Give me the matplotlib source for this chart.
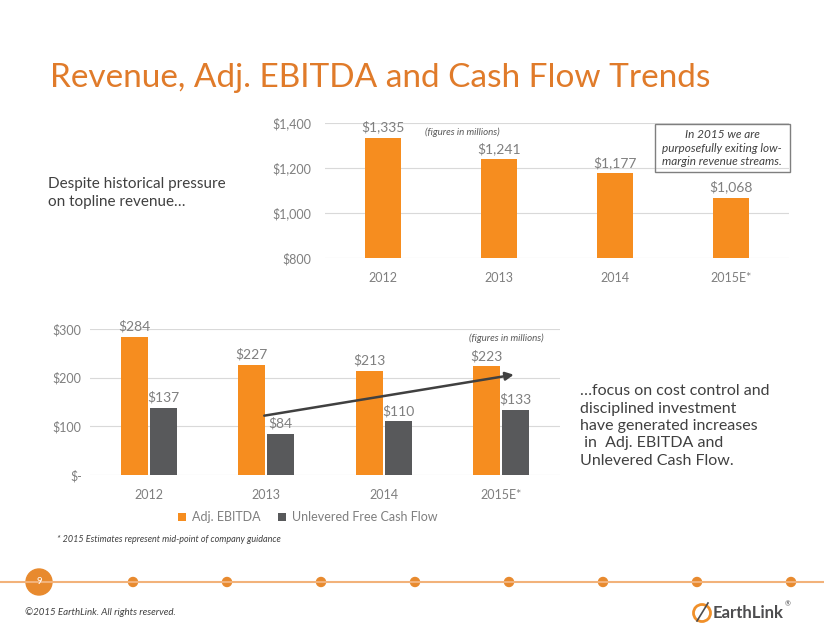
import matplotlib.pyplot as plt
from matplotlib.patches import Circle, Rectangle

plt.rcParams['font.family'] = ['Lato', 'DejaVu Sans']

years = ['2012', '2013', '2014', '2015E*']
revenue = [1335, 1241, 1177, 1068]
ebitda = [284, 227, 213, 223]
cash_flow = [137, 84, 110, 133]
revenue_ticks = [800, 1000, 1200, 1400]
revenue_tick_labels = ['$800', '$1,000', '$1,200', '$1,400']
cash_ticks = [0, 100, 200, 300]
cash_tick_labels = ['$-', '$100', '$200', '$300']

ORANGE = '#F68D1F'
GRAY = '#58595B'
TITLE = '#E07B2A'
TICK = '#7F7F7F'
W, H = 824, 637

fig = plt.figure(figsize=(W / 100, H / 100), dpi=100)


def px_axes(left, top, right, bottom):
    return fig.add_axes([left / W, 1 - bottom / H, (right - left) / W, (bottom - top) / H])


def px_text(x, y, s, **kw):
    fig.text(x / W, 1 - y / H, s, **kw)


def style(ax):
    for s in ax.spines.values():
        s.set_visible(False)
    ax.tick_params(length=0, colors=TICK, labelsize=9)
    ax.grid(axis='y', color='#D9D9D9', lw=0.8)
    ax.set_axisbelow(True)


# title
px_text(50, 78, 'Revenue, Adj. EBITDA and Cash Flow Trends', color=TITLE,
        fontsize=24, va='center', ha='left')

# top chart: revenue
ax1 = px_axes(325, 123, 789, 258)
x = range(len(years))
ax1.bar(x, revenue, width=0.31, color=ORANGE)
for i, v in enumerate(revenue):
    ax1.text(i, v + 18, f'${v:,}', ha='center', va='bottom', color=TICK, fontsize=10)
ax1.set_ylim(800, 1400)
ax1.set_xlim(-0.5, 3.5)
ax1.set_yticks(revenue_ticks, revenue_tick_labels)
ax1.set_xticks(list(x), years)
style(ax1)
ax1.tick_params(axis='x', pad=10)
ax1.tick_params(axis='y', pad=10)
px_text(462, 132, '(figures in millions)', ha='center', va='center',
        fontsize=7, style='italic', color='#595959')
fig.patches.append(Rectangle((655 / W, 1 - 172 / H), 135 / W, 48 / H,
                             transform=fig.transFigure, fill=False,
                             ec='#7F7F7F', lw=1))
px_text(722, 148, 'In 2015 we are\npurposefully exiting low-\nmargin revenue streams.',
        ha='center', va='center', fontsize=8.5, style='italic', color='#404040',
        linespacing=1.25)

px_text(48, 193, 'Despite historical pressure\non topline revenue…', ha='left',
        va='center', fontsize=11, color='#404040', linespacing=1.35)

# bottom chart: EBITDA and cash flow
ax2 = px_axes(90, 329, 560, 475)
off = 0.123
ax2.bar([i - off for i in x], ebitda, width=0.23, color=ORANGE, label='Adj. EBITDA')
ax2.bar([i + off for i in x], cash_flow, width=0.23, color=GRAY,
        label='Unlevered Free Cash Flow')
for i in x:
    ax2.text(i - off, ebitda[i] + 9, f'${ebitda[i]}', ha='center', va='bottom',
             color=TICK, fontsize=10)
    ax2.text(i + off, cash_flow[i] + 9, f'${cash_flow[i]}', ha='center', va='bottom',
             color=TICK, fontsize=10)
ax2.set_ylim(0, 300)
ax2.set_xlim(-0.5, 3.5)
ax2.set_yticks(cash_ticks, cash_tick_labels)
ax2.set_xticks(list(x), years)
style(ax2)
ax2.tick_params(axis='x', pad=10)
ax2.tick_params(axis='y', pad=6)
ax2.annotate('', xy=(3.13, 207), xytext=(0.96, 121),
             arrowprops=dict(arrowstyle='-|>', color='#404040', lw=1.8,
                             mutation_scale=12))
ax2.legend(loc='upper center', bbox_to_anchor=(0.464, -0.17), ncol=2, frameon=False,
           fontsize=9, labelcolor=TICK, handlelength=0.6, handleheight=0.6,
           columnspacing=1.4, handletextpad=0.5)
px_text(506, 338, '(figures in millions)', ha='center', va='center',
        fontsize=7, style='italic', color='#595959')

px_text(580, 426, '…focus on cost control and\ndisciplined investment\nhave generated increases\n in  Adj. EBITDA and\nUnlevered Cash Flow.',
        ha='left', va='center', fontsize=11.5, color='#404040', linespacing=1.3)

px_text(57, 540, '* 2015 Estimates represent mid-point of company guidance', ha='left',
        va='center', fontsize=6.5, style='italic', color='#404040')

# footer
fig.add_artist(plt.Line2D([0, 1], [1 - 582 / H] * 2, color='#F2B27A', lw=1.5))
for k in range(8):
    fig.patches.append(Circle((133 + 94 * k, H - 582), 4.5, color='#E88A2E',
                              transform=None))
fig.patches.append(Circle((39, H - 582), 13, color='#E88A2E', transform=None))
px_text(39, 582, '9', ha='center', va='center', fontsize=7, color='white')
px_text(25, 612, '©2015 EarthLink. All rights reserved.', ha='left', va='center',
        fontsize=7, style='italic', color='#404040')
fig.patches.append(Circle((702, H - 613), 8.5, fill=False, ec='#F0902A', lw=2,
                          transform=None))
fig.add_artist(plt.Line2D([697 / W, 708 / W], [1 - 621 / H, 1 - 603 / H],
                          color='#4D4D4F', lw=1.2))
px_text(713, 613, 'EarthLink', ha='left', va='center', fontsize=12,
        fontweight='bold', color='#4D4D4F')
px_text(785, 604, '®', ha='left', va='center', fontsize=5, color='#4D4D4F')

fig.savefig('out.png', dpi=100)
